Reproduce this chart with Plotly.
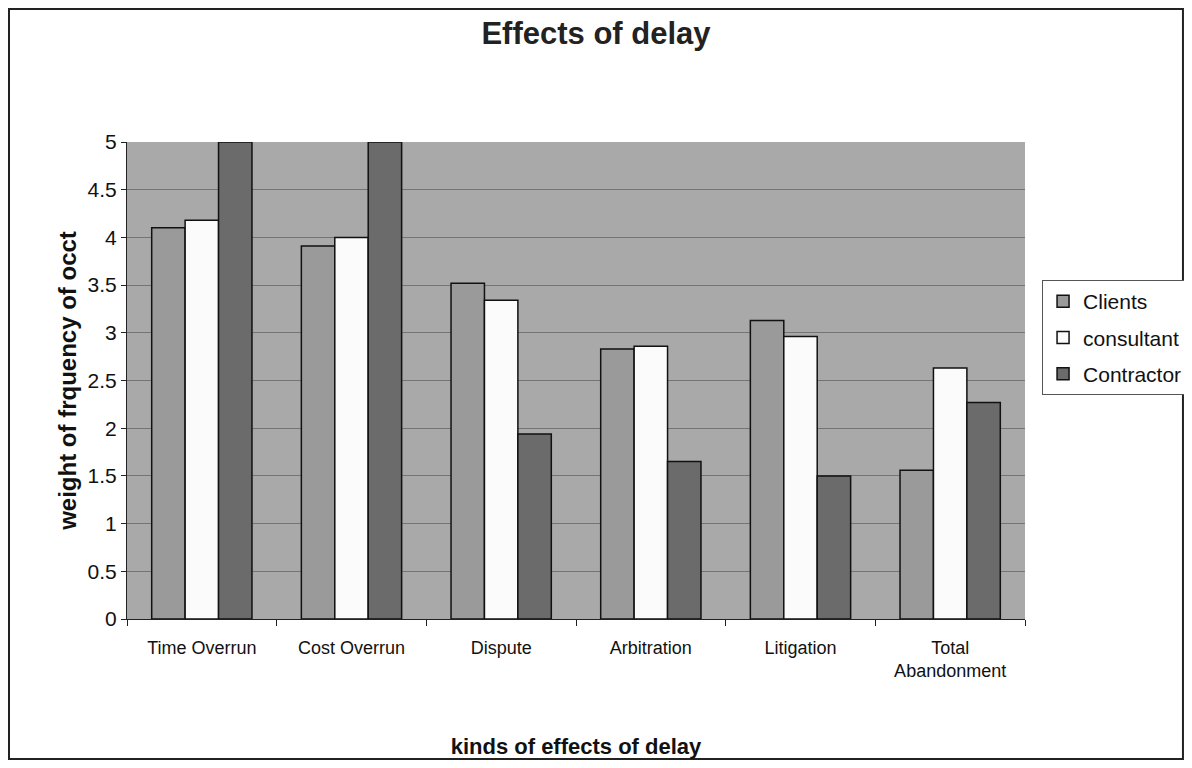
import plotly.graph_objects as go

categories = ["Time Overrun", "Cost Overrun", "Dispute", "Arbitration", "Litigation", "Total<br>Abandonment"]
clients = [4.10, 3.91, 3.52, 2.83, 3.13, 1.56]
consultant = [4.18, 4.00, 3.34, 2.86, 2.96, 2.63]
contractor = [5.0, 5.0, 1.94, 1.65, 1.50, 2.27]

FONT = "Liberation Sans, Arial, sans-serif"

fig = go.Figure()
for name, vals, col in [("Clients", clients, "#9a9a9a"),
                        ("consultant", consultant, "#fbfbfb"),
                        ("Contractor", contractor, "#6b6b6b")]:
    fig.add_trace(go.Bar(x=categories, y=vals, name=name, legendgroup=name,
                         marker=dict(color=col, line=dict(color="#111", width=1.5))))

# page body has an 8px margin, so the figure is sized to fit inside it
fig.update_layout(
    width=1176, height=752,
    paper_bgcolor="white", plot_bgcolor="#a9a9a9",
    margin=dict(l=119, r=159, t=134, b=141),
    barmode="group", bargap=0.33, bargroupgap=0,
    font=dict(family=FONT, color="#111"),
    title=dict(text="<b>Effects of delay</b>", x=0.5, xanchor="center",
               y=0.9668, yanchor="middle", font=dict(size=31, color="#222")),
    # container refs so the legend does not push the margins
    legend=dict(xref="container", yref="container", x=0.8793, y=0.6383,
                xanchor="left", yanchor="top",
                bgcolor="white", bordercolor="#555", borderwidth=1,
                font=dict(size=21, color="#111"), itemwidth=30, tracegroupgap=6),
    shapes=[dict(type="rect", xref="paper", yref="paper",
                 x0=-0.1314, x1=1.1759, y0=-0.2935, y1=1.2788,
                 line=dict(color="#222", width=2))],
)
fig.update_yaxes(range=[0, 5], dtick=0.5, showgrid=True, gridcolor="#747474", gridwidth=1,
                 showline=True, linecolor="#222", linewidth=1, ticks="outside",
                 ticklen=5, tickcolor="#222", tickfont=dict(size=21), automargin=False,
                 title=dict(text="<b>weight of frquency of occt</b>", font=dict(size=24),
                            standoff=4), zeroline=False)
fig.update_xaxes(showline=True, linecolor="#222", linewidth=1, ticks="outside",
                 tickson="boundaries", ticklen=6, tickcolor="#222", automargin=False,
                 tickfont=dict(size=18), ticklabelstandoff=12,
                 title=dict(text="<b>kinds of effects of delay</b>", font=dict(size=22),
                            standoff=58))

fig.write_html("out.html")
